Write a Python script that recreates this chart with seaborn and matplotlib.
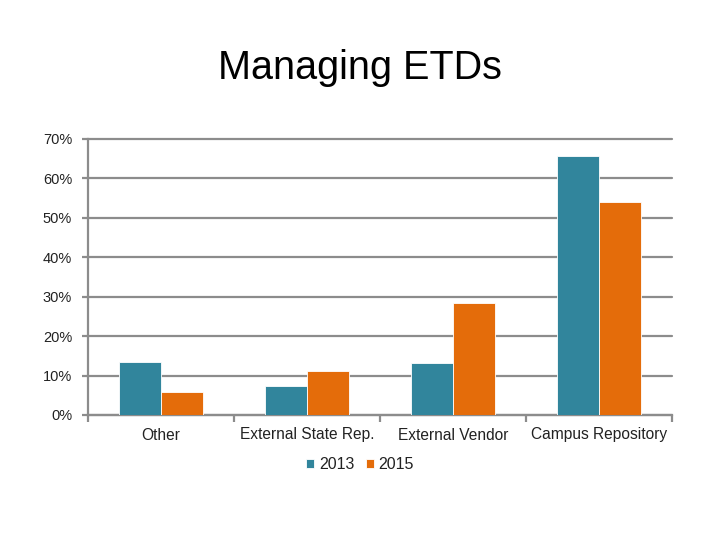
import matplotlib
matplotlib.use("Agg")
import matplotlib.pyplot as plt
import seaborn as sns
import pandas as pd
from matplotlib.ticker import FixedLocator, PercentFormatter

categories = ["Other", "External State Rep.", "External Vendor", "Campus Repository"]
values_2013 = [13.4, 7.4, 13.3, 65.7]
values_2015 = [5.9, 11.2, 28.5, 54.1]
years = ["2013", "2015"]
colors = ["#31859C", "#E46C0A"]

df = pd.DataFrame({
    "category": categories * 2,
    "year": [years[0]] * len(categories) + [years[1]] * len(categories),
    "value": values_2013 + values_2015,
})

sns.set_style("white")
plt.rcParams["font.family"] = ["Liberation Sans", "DejaVu Sans"]
plt.rcParams["text.color"] = "black"
plt.rcParams["xtick.color"] = "black"
plt.rcParams["ytick.color"] = "black"

fig = plt.figure(figsize=(7.2, 5.4), dpi=100)
ax = fig.add_axes([88/720, 1-415/540, (672-88)/720, (415-139)/540])

sns.barplot(data=df, x="category", y="value", hue="year", palette=colors,
            saturation=1, width=0.57, ax=ax, edgecolor="white", linewidth=0.6, zorder=3)

grid_c = "#8C8C8C"
ax.set_ylim(0, 70)
ax.set_xlim(-0.5, len(categories) - 0.5)
ax.set_yticks(range(0, 71, 10))
ax.yaxis.set_major_formatter(PercentFormatter(decimals=0))
ax.yaxis.grid(True, color=grid_c, linewidth=1.6, zorder=0)
for gl in ax.get_ygridlines():
    gl.set_clip_on(False)
ax.set_axisbelow(True)
for s in ["top", "right"]:
    ax.spines[s].set_visible(False)
for s in ["left", "bottom"]:
    ax.spines[s].set_color(grid_c)
    ax.spines[s].set_linewidth(1.6)
    ax.spines[s].set_zorder(1)

ax.tick_params(axis="y", length=4.5, color=grid_c, width=1.6, labelsize=10.5, pad=7,
               left=True, labelcolor="#222222")
ax.tick_params(axis="x", which="major", length=0, labelsize=11.2, pad=9, labelcolor="#222222")
ax.xaxis.set_minor_locator(FixedLocator([i - 0.5 for i in range(len(categories) + 1)]))
ax.tick_params(axis="x", which="minor", length=5, color=grid_c, width=1.6, bottom=True)
ax.set_xlabel("")
ax.set_ylabel("")

leg = ax.legend(loc="upper center", bbox_to_anchor=(0.466, -0.10), ncol=2, frameon=False,
                fontsize=11.5, handlelength=0.5, handleheight=0.5, handletextpad=0.3,
                columnspacing=0.7)
for t in leg.get_texts():
    t.set_color("#222222")

fig.text(0.5, 1 - 68/540, "Managing ETDs", fontsize=28.5, ha="center", va="center", color="black")

fig.savefig("out.png", dpi=100)
